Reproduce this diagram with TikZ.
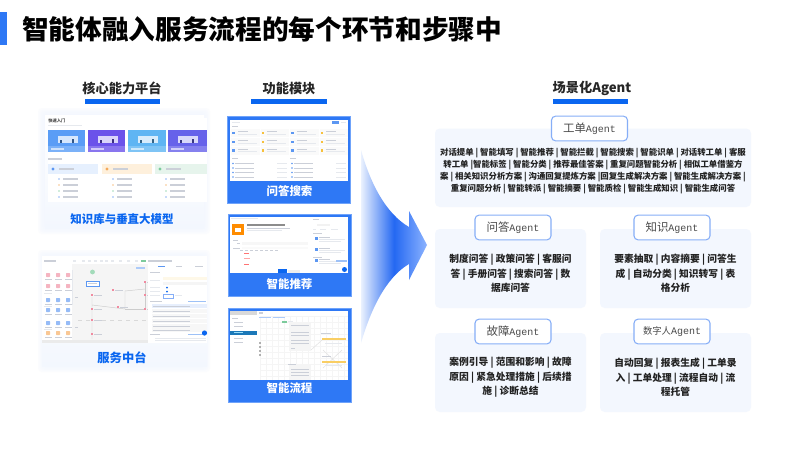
\documentclass[tikz,border=0pt]{standalone}
\usepackage{fontspec}
\setmainfont{Noto Sans CJK SC}
\newfontfamily\monofont{Liberation Mono}
\definecolor{brand}{HTML}{0A66F0}
\definecolor{panelblue}{HTML}{2E78F5}
\definecolor{panelrim}{HTML}{6FA3FA}
\definecolor{cardbg}{HTML}{F3F7FE}
\definecolor{boxrim}{HTML}{86AEF7}
\definecolor{inkdark}{HTML}{222222}
\definecolor{hdrgray}{HTML}{4A4A4A}
\definecolor{barg}{HTML}{E6E9EE}
\definecolor{bard}{HTML}{CBCFD8}
\definecolor{tileA}{HTML}{5A9DF6}
\definecolor{tileB}{HTML}{6B52EA}
\definecolor{tileC}{HTML}{5FB5F3}
\definecolor{tileD}{HTML}{6662EA}
\definecolor{dotblue}{HTML}{5C97F2}
\definecolor{dotyel}{HTML}{F7C13D}
\definecolor{dotpink}{HTML}{F08BA0}
\definecolor{dotorg}{HTML}{F5A95A}
\definecolor{dotgreen}{HTML}{7CCB9C}
\definecolor{tintA}{HTML}{E6F0FE}
\definecolor{tintB}{HTML}{FEF0DC}
\definecolor{tintC}{HTML}{E6F4EC}
\definecolor{fieldy}{HTML}{FEF8E8}
\definecolor{treesel}{HTML}{1B78B8}
\definecolor{arrowmid}{HTML}{2468F2}
\definecolor{arrowtip}{HTML}{8CB3FF}
\definecolor{arrowtail}{HTML}{EAF1FE}
\tikzset{
  titletext/.style={font=\fontsize{20}{24}\selectfont\bfseries,text=black,inner sep=0,anchor=west},
  sechead/.style={font=\fontsize{9.9}{12}\selectfont\bfseries,text=black!85,inner sep=0},
  caplabel/.style={font=\fontsize{8.6}{10}\selectfont\bfseries,text=brand,inner sep=0},
  panellabel/.style={font=\fontsize{8.6}{10}\selectfont\bfseries,text=white,inner sep=0},
  scard/.style={fill=cardbg,rounded corners=3.5pt},
  hbox/.style={draw=boxrim,line width=0.8pt,fill=white,rounded corners=3pt,minimum width=57pt,minimum height=18.5pt,inner sep=0,font=\fontsize{8.6}{10}\selectfont,text=hdrgray},
  bigtext/.style={font=\fontsize{6.3}{9}\selectfont\bfseries,text=inkdark,align=center,inner sep=0},
  bodytext/.style={font=\fontsize{7.3}{10.9}\selectfont\bfseries,text=inkdark,align=center,inner sep=0},
}
\newcommand{\rr}[5]{\fill[#5] (#1,#2) rectangle (#3,#4);}
\newcommand{\ag}{{\monofont\fontsize{7.5}{10}\selectfont Agent}}
\begin{document}
\begin{tikzpicture}[x=0.75pt,y=-0.75pt]
\useasboundingbox (0,0) rectangle (800,450);
\fill[white] (0,0) rectangle (800,450);
% title
\rr{0}{12}{6.5}{45}{panelblue}
\node[titletext] (title) at (22,29.5) {智能体融入服务流程的每个环节和步骤中};
% section heads
\node[sechead] (h1) at (122,88) {核心能力平台};
\node[sechead] (h2) at (289,88) {功能模块};
\node[sechead] (h3) at (592,88) {场景化Agent};
\rr{84.5}{99}{160}{103.5}{brand}
\rr{251}{99}{327}{103.5}{brand}
\rr{552.5}{99}{628}{103.5}{brand}

% ---------- left card 1
\foreach \i in {0,...,5}{
  \fill[cardbg,opacity=0.3,rounded corners=3pt] (38+\i*1.5,108+\i*1.5) rectangle (210-\i*1.5,234-\i*1.5);
}
\shade[top color=white,bottom color=cardbg] (45,115) rectangle (204,228);
\rr{48}{118}{207}{202}{white}
\node[inner sep=0,font=\fontsize{3.2}{4}\selectfont\bfseries,text=inkdark!80,anchor=west] (quick) at (48,120.5) {快速入门};
\rr{48}{125}{82}{126}{barg}
\foreach \a/\b/\c in {48/85/tileA,88/125/tileB,128/166/tileC,168/207/tileD}{
  \rr{\a}{130}{\b}{152}{\c}
  \rr{\a}{146}{\b}{152}{\c!80!white}
  \rr{\a+3}{148}{\a+16}{149.5}{white!70!\c}
  \fill[white!75!\c] (\a+10,143) rectangle (\a+30,136);
  \fill[\c!55!black] (\a+12,143) rectangle (\a+14,140);
  \fill[\c!55!black] (\a+24,143) rectangle (\a+26,139);
}
\rr{48}{158}{62}{160}{bard}
\rr{48}{164}{98}{174}{tintA}
\rr{102}{164}{152}{174}{tintB}
\rr{155}{164}{207}{174}{tintC}
\foreach \a/\c in {48/dotblue,102/dotorg,155/dotgreen}{
  \fill[\c] (\a+5,169) circle (1.6);
  \rr{\a+11}{168.2}{\a+26}{169.8}{bard}
  \foreach \y/\k in {179/dotblue,185/dotorg,191/dotgreen,197/dotblue}{
    \fill[\k!70!white] (\a+11,\y) circle (0.9);
    \rr{\a+15}{\y-0.6}{\a+30}{\y+0.6}{bard}
  }
}
\node[caplabel] (cap1) at (122,219) {知识库与垂直大模型};

% ---------- left card 2
\foreach \i in {0,...,5}{
  \fill[cardbg,opacity=0.3,rounded corners=3pt] (38+\i*1.5,250+\i*1.5) rectangle (210-\i*1.5,372-\i*1.5);
}
\shade[top color=white,bottom color=cardbg] (42,256) rectangle (207,366);
\rr{42}{259}{207}{343}{white}
\rr{72}{264}{150}{343}{black!4}
\rr{42}{340}{207}{343}{black!8}
\rr{44}{260}{56}{261.5}{bard}
\foreach \x in {73,82,88,94,100,105,111,119,127,135}{\rr{\x}{260}{\x+3}{261.5}{barg}}
\rr{141}{259.5}{146}{262}{dotgreen}
\rr{148}{260}{172}{261.5}{bard}
\foreach \y/\k in {276/dotpink,287/dotpink,301/dotblue,311/dotblue,324/dotblue,334/dotorg}{
  \foreach \x in {48,58,68}{
    \fill[\k!65!white,rounded corners=0.5pt] (\x-2,\y-3) rectangle (\x+2,\y+1);
    \rr{\x-3.5}{\y+2.5}{\x+3.5}{\y+3.5}{bard}
  }
}
\rr{72}{270}{73}{305}{barg}
\rr{44}{293}{52}{294}{barg}\rr{44}{306}{52}{307}{barg}\rr{44}{329}{52}{330}{barg}
% flow
\draw[black!20,line width=0.35pt] (92,297) -- (92,339) (92,305) -- (125,309) -- (125,291) -- (145,289);
\draw[black!20,line width=0.35pt] (125,309) -- (145,309) -- (145,282);
\draw[black!15,dashed,line width=0.3pt] (78,320) -- (148,320);
\fill[dotgreen!70!white] (92.5,272) circle (2.4);
\draw[dotblue,line width=0.35pt,fill=white] (86,281) rectangle (99,286);
\rr{88}{283}{97}{284}{bard}
\foreach \x/\y in {92/295,92/309,92/320,92/334,113/290,118/307,145/282,145/295,145/309}{
  \fill[dotpink] (\x-0.7,\y-0.7) rectangle (\x+0.7,\y+0.7);
  \rr{\x+2}{\y-0.5}{\x+10}{\y+0.5}{bard}
}
\rr{136}{267}{145}{269}{dotblue!50!white}
\rr{75}{297}{78}{298}{bard}\rr{75}{327}{78}{328}{bard}
% right panel
\rr{148}{262}{207}{343}{white}
\rr{158}{266}{165}{267}{dotblue}\rr{176}{266}{182}{267}{bard}\rr{195}{266}{203}{267}{bard}
\rr{150}{272}{160}{273}{bard}
\rr{163}{276.5}{207}{280}{fieldy}
\rr{163}{281.5}{207}{285}{black!4}
\fill[brand] (167,287.5) circle (1);\fill[brand] (167,291.5) circle (1);
\rr{150}{287}{160}{288}{barg}\rr{150}{291}{160}{292}{barg}\rr{150}{295}{160}{296}{barg}\rr{150}{280}{160}{281}{barg}
\draw[boxrim,line width=0.3pt] (163,294) rectangle (173,298);
\rr{175}{295}{182}{296}{barg}
\rr{150}{301}{162}{302}{bard}\rr{188}{301}{206}{302}{dotblue!60!white}
\foreach \y in {311,316,321,326,330}{\rr{152}{\y-1.8}{207}{\y+1.8}{black!3}\rr{153}{\y-0.5}{190}{\y+0.5}{bard}}
\rr{152}{304}{207}{308}{dotblue!15!white}
\rr{153}{305.5}{190}{306.5}{bard}
\rr{150}{334}{160}{335}{bard}\rr{188}{334}{203}{335}{dotblue!60!white}
\foreach \y in {338,340}{\rr{155}{\y}{206}{\y+0.8}{barg}}
\fill[brand] (204.5,333) circle (2.6);
\node[caplabel,font=\fontsize{9.2}{10}\selectfont\bfseries] (cap2) at (122,358) {服务中台};

% ---------- middle panel 1
\rr{227.7}{116.5}{350.5}{203}{panelblue}
\draw[panelrim,line width=0.5pt] (227.7,116.5) rectangle (350.5,203);
\rr{230}{119.5}{348}{180.5}{white}
\rr{232}{121.5}{240}{122.5}{barg}
\rr{332}{121}{339}{123.5}{dotblue}\rr{341}{121.5}{346}{123}{barg}
\rr{231.5}{125.5}{238}{126.5}{bard}
\foreach \y in {133,142,150.5}{
  \foreach \x/\k in {233.5/dotblue,263/dotyel,292.5/dotblue,322/dotyel}{
    \rr{\x-2.5}{\y-4}{\x+26}{\y+4}{black!2}
    \fill[\k] (\x-1.3,\y-1.3) rectangle (\x+1.3,\y+1.3);
    \rr{\x+4}{\y-1.7}{\x+14}{\y-0.7}{bard}
    \rr{\x+4}{\y+0.7}{\x+23}{\y+1.5}{barg}
  }
}
\rr{231.5}{157.5}{238}{158.5}{bard}\rr{290}{157.5}{296}{158.5}{bard}
\foreach \y in {163.5,168,172.5,177}{
  \fill[dotblue] (233,\y) circle (0.8);
  \rr{235}{\y-0.5}{254}{\y+0.5}{bard}
  \rr{277}{\y-0.5}{287}{\y+0.5}{barg}
  \fill[dotblue] (292,\y) circle (0.8);
  \rr{294}{\y-0.5}{313}{\y+0.5}{bard}
  \rr{336}{\y-0.5}{346}{\y+0.5}{barg}
}
\node[panellabel] (p1) at (289.5,191.5) {问答搜索};

% ---------- middle panel 2
\rr{228}{214.5}{351}{296.5}{panelblue}
\draw[panelrim,line width=0.5pt] (228,214.5) rectangle (351,296.5);
\rr{230}{216.5}{348}{273}{white}
\rr{231}{217.5}{258}{218.5}{barg}
\fill[orange!90!yellow] (232,223.5) rectangle (244,235);
\rr{235}{228}{241}{232}{white}
\rr{247}{224}{285}{225.5}{black!45}
\rr{247}{227.5}{290}{228.3}{bard}
\rr{247}{230}{282}{230.8}{barg}
\rr{233}{239.5}{238}{240.3}{bard}
\rr{242}{242}{308}{245}{black!3}\rr{242}{247}{308}{249}{black!2}
\rr{237}{243}{240}{244}{bard}\rr{233}{247.5}{240}{248.5}{bard}
\foreach \x in {240,245,250,255,260,265,270,275}{\rr{\x}{249.7}{\x+2.5}{251.3}{bard}}
\rr{244}{253}{249}{254}{red!55!white}
\rr{244}{258}{250}{259}{red!35!white}
\rr{244}{264}{249}{265}{red!55!white}
\rr{278}{269}{287}{273}{brand}\rr{288}{270}{300}{273}{black!7}
\rr{313}{219}{319}{220}{bard}\rr{317}{224}{330}{226}{black!5}
\rr{313}{229}{316}{230}{barg}\rr{320}{229}{326}{230}{barg}\rr{331}{229}{338}{230}{barg}
\rr{313}{233}{322}{234}{bard}
\foreach \y in {239,250,261}{
  \rr{315}{\y-2}{318}{\y+1}{dotblue}
  \rr{319}{\y-2}{330}{\y-1}{bard}
  \rr{319}{\y}{345}{\y+0.7}{barg}\rr{319}{\y+2}{341}{\y+2.7}{barg}
}
\rr{313}{256.5}{322}{257.5}{bard}
\rr{336}{259.5}{347}{262}{dotblue!60!white}
\fill[brand] (344.5,269.5) circle (2.5);
\node[panellabel] (p2) at (289.5,284.5) {智能推荐};

% ---------- middle panel 3
\rr{228}{308}{351}{402.5}{panelblue}
\draw[panelrim,line width=0.5pt] (228,308) rectangle (351,402.5);
\rr{230}{311}{348}{380}{white}
\foreach \x in {260,266,...,346}{\draw[black!4,line width=0.25pt] (\x,316) -- (\x,380);}
\foreach \y in {316,322,...,378}{\draw[black!4,line width=0.25pt] (260,\y) -- (348,\y);}
\rr{230}{311}{257}{314.5}{black!15}
\rr{259}{312}{263}{313.5}{bard}
\rr{259}{316.5}{271}{317.5}{dotblue!50!white}\rr{273}{316.5}{285}{317.5}{dotblue!50!white}
\rr{232}{318}{238}{319}{bard}
\foreach \y in {321.5,326,338,342}{\rr{234}{\y}{243}{\y+1}{bard}}
\rr{230}{331}{257}{334.5}{treesel}
\rr{234}{332.3}{243}{333.3}{white!60!cyan}
\foreach \y in {343,347,351,355}{\fill[black!60] (260,\y) circle (0.9);}
\rr{282}{320.5}{287}{322.5}{dotgreen}\rr{288}{321}{293}{322}{barg}
\rr{289}{323}{311}{351}{black!4}
\rr{289}{365}{311}{380}{black!4}
\foreach \y in {325,332,335,340,343}{\rr{291}{\y}{309}{\y+0.7}{bard}}
\foreach \y in {369,372,375}{\rr{291}{\y}{309}{\y+0.7}{bard}}
\rr{288}{364}{296}{365}{bard}
\rr{291}{348}{295}{349}{bard}
\draw[black!12,line width=0.35pt] (311,350) -- (322,340) (323,350) -- (342,368) (342,350) -- (323,368);
\rr{321}{333}{331}{334}{bard}
\rr{322}{338}{346}{340}{dotyel!80!white}
\rr{325}{343}{342}{344}{barg}
\rr{322}{356}{331}{357}{bard}
\rr{322}{361}{346}{363}{dotyel!80!white}
\rr{325}{365}{342}{366}{barg}
\node[panellabel] (p3) at (289.5,388) {智能流程};

% ---------- big arrow
\shade[left color=arrowtail,right color=arrowtip,middle color=arrowmid]
  (361,150) .. controls (370,182) and (385,213) .. (409,227) -- (409,211) -- (427,245) -- (409,280) -- (409,264)
  .. controls (385,278) and (370,312) .. (361,343) -- cycle;

% ---------- agent cards
\fill[scard] (435,128.5) rectangle (751,207);
\fill[scard] (435,229) rectangle (586,308);
\fill[scard] (600,229) rectangle (751,308);
\fill[scard] (435,333) rectangle (586,412);
\fill[scard] (600,333) rectangle (751,412);
\node[hbox] (a1) at (589.5,128.5) {工单\ag};
\node[hbox] (a2) at (513,227.5) {问答\ag};
\node[hbox] (a3) at (672,227.5) {知识\ag};
\node[hbox] (a4) at (513,331.5) {故障\ag};
\node[hbox] (a5) at (672,331.5) {\fontsize{7}{10}\selectfont 数字人\ag};
\node[bigtext] (t1) at (593,171) {对话提单 | 智能填写 | 智能推荐 | 智能拦截 | 智能搜索 | 智能识单 | 对话转工单 | 客服\\转工单 |智能标签 | 智能分类 | 推荐最佳答案 | 重复问题智能分析 | 相似工单借鉴方\\案 | 相关知识分析方案 | 沟通回复提炼方案 |回复生成解决方案 | 智能生成解决方案 |\\重复问题分析 | 智能转派 | 智能摘要 | 智能质检 | 智能生成知识 | 智能生成问答};
\node[bodytext] (t2) at (510.5,273.5) {制度问答 | 政策问答 | 客服问\\答 | 手册问答 | 搜索问答 | 数\\据库问答};
\node[bodytext] (t3) at (675.5,273.5) {要素抽取 | 内容摘要 | 问答生\\成 | 自动分类 | 知识转写 | 表\\格分析};
\node[bodytext] (t4) at (510.5,377.5) {案例引导 | 范围和影响 | 故障\\原因 | 紧急处理措施 | 后续措\\施 | 诊断总结};
\node[bodytext] (t5) at (675.5,377.5) {自动回复 | 报表生成 | 工单录\\入 | 工单处理 | 流程自动 | 流\\程托管};
\end{tikzpicture}
\end{document}
